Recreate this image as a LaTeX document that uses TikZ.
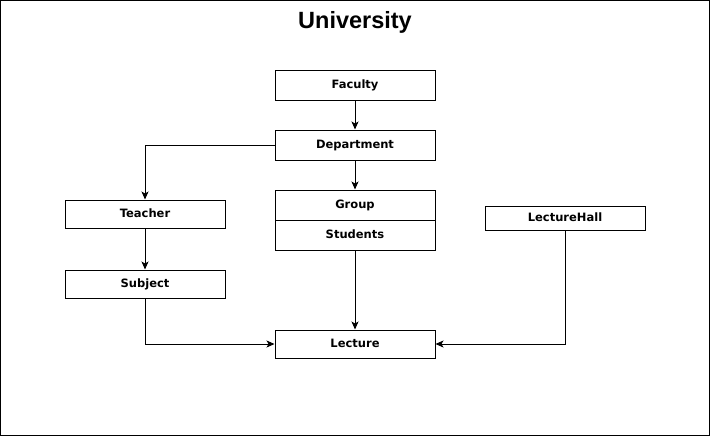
\documentclass[tikz,border=0pt]{standalone}
\usepackage{fontspec}
\newfontfamily\boxfont{DejaVu Sans}
\newfontfamily\titlefont{Liberation Sans}
\usetikzlibrary{arrows.meta, positioning}

\begin{document}
\begin{tikzpicture}[
    x=1pt, y=-1pt,
    >={Stealth[length=8pt, width=7pt, inset=2pt]}, % small filled tip
    % Style definitions
    entity/.style={draw, line width=1pt, rectangle, minimum width=160pt, minimum height=30pt,
        inner sep=0pt, text height=8.5pt, text depth=2pt,
        font=\boxfont\bfseries\fontsize{11.5}{13}\selectfont},
    link/.style={->, line width=1pt},
    title text/.style={font=\titlefont\bfseries\fontsize{23.5}{27}\selectfont}
]

% ==========================================
% 0. FRAME AND TITLE
% ==========================================
\useasboundingbox (0,0) rectangle (711,437);
\draw[line width=1.3pt] (0.7,0.7) rectangle (709.5,435.5);
\node[title text] (title) at (355,22) {University};

% ==========================================
% 1. MIDDLE COLUMN
% ==========================================
\node[entity] (faculty) at (355,85) {Faculty};
\node[entity] (department) at (355,145) {Department};
\node[entity] (group) at (355,205) {Group};
\node[entity] (students) at (355,235) {Students};
\node[entity, minimum height=28pt] (lecture) at (355,344) {Lecture};

% ==========================================
% 2. LEFT COLUMN
% ==========================================
\node[entity, minimum height=28pt] (teacher) at (145,214) {Teacher};
\node[entity, minimum height=28pt] (subject) at (145,284) {Subject};

% ==========================================
% 3. RIGHT SIDE
% ==========================================
\node[entity, minimum height=24pt] (hall) at (565,218) {LectureHall};

% ==========================================
% 4. ARROWS
% ==========================================
\draw[link] (faculty) -- (department);
\draw[link] (department) -- (group);
\draw[link] (department.west) -| (teacher.north);
\draw[link] (teacher) -- (subject);
\draw[link] (subject.south) |- (lecture.west);
\draw[link] (students) -- (lecture);
\draw[link] (hall.south) |- (lecture.east);

\end{tikzpicture}
\end{document}
